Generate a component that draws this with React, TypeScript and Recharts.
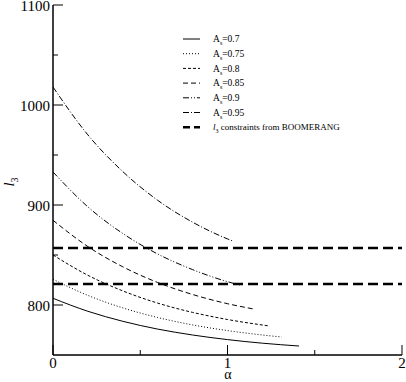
import React from "react";
import {
    LineChart,
    Line,
    XAxis,
    YAxis,
    ReferenceLine,
    Legend,
} from "recharts";

// values (alpha vs l3 for each A_s)
const alpha07 = [0, 0.2, 0.4, 0.6, 0.8, 1.0, 1.2, 1.41];
const l07 = [806.7, 793.7, 783.7, 775.9, 770.0, 765.4, 761.8, 759];
const alpha075 = [0, 0.2, 0.4, 0.6, 0.8, 1.0, 1.2, 1.31];
const l075 = [825.7, 809.6, 797.1, 787.5, 780.1, 774.4, 770.0, 768];
const alpha08 = [0, 0.2, 0.4, 0.6, 0.8, 1.0, 1.24];
const l08 = [850, 829.7, 814.1, 801.9, 792.6, 785.5, 779];
const alpha085 = [0, 0.2, 0.4, 0.6, 0.8, 1.0, 1.15];
const l085 = [884.7, 858.4, 838.2, 822.5, 810.5, 801.3, 796];
const alpha09 = [0, 0.2, 0.4, 0.6, 0.8, 1.0, 1.07];
const l09 = [933, 898.1, 871.5, 851, 835.4, 823.3, 820];
const alpha095 = [0, 0.2, 0.4, 0.6, 0.8, 1.0, 1.03];
const l095 = [1018, 970.1, 933.4, 904.7, 882.8, 866.1, 864];

const boomerangBounds = [857, 821];

const xTicks = [0, 0.5, 1, 1.5, 2];
const yTicks = [800, 850, 900, 950, 1000, 1050, 1100];

const PLOT = { left: 53, right: 402, top: 5, bottom: 355 };
const FONT = "'Liberation Serif', 'DejaVu Serif', serif";

const series = [
    { label: "0.7", alpha: alpha07, l: l07, dash: undefined },
    { label: "0.75", alpha: alpha075, l: l075, dash: "1 2" },
    { label: "0.8", alpha: alpha08, l: l08, dash: "3 2" },
    { label: "0.85", alpha: alpha085, l: l085, dash: "5 3" },
    { label: "0.9", alpha: alpha09, l: l09, dash: "6 2 1 2 1 2" },
    { label: "0.95", alpha: alpha095, l: l095, dash: "6 2 1 2" },
].map((s) => ({ ...s, points: s.alpha.map((a, i) => ({ a, l: s.l[i] })) }));

const LeftTick = (props: any) => {
    const { x, y, payload } = props;
    const major = payload.value % 100 === 0;
    return (
        <g>
            <line x1={PLOT.left} x2={PLOT.left + (major ? 10 : 5)} y1={y} y2={y} stroke="#000" />
            {major && (
                <text x={x} y={y + 1} dy="0.35em" textAnchor="end" fontFamily={FONT} fontSize={15} fill="#000">
                    {payload.value}
                </text>
            )}
        </g>
    );
};

const RightTick = (props: any) => {
    const { y, payload } = props;
    const major = payload.value % 100 === 0;
    return <line x1={PLOT.right} x2={PLOT.right - (major ? 10 : 5)} y1={y} y2={y} stroke="#000" />;
};

const BottomTick = (props: any) => {
    const { x, y, payload } = props;
    const major = Number.isInteger(payload.value);
    return (
        <g>
            <line x1={x} x2={x} y1={PLOT.bottom} y2={PLOT.bottom - (major ? 10 : 5)} stroke="#000" />
            {major && (
                <text x={x} y={y} dy="0.71em" textAnchor="middle" fontFamily={FONT} fontSize={15} fill="#000">
                    {payload.value}
                </text>
            )}
        </g>
    );
};

const TopTick = (props: any) => {
    const { x, payload } = props;
    const major = Number.isInteger(payload.value);
    return <line x1={x} x2={x} y1={PLOT.top} y2={PLOT.top + (major ? 10 : 5)} stroke="#000" />;
};

const LegendBox = () => {
    const rowH = 14.7;
    return (
        <svg width={200} height={110} style={{ display: "block" }}>
            {series.map((s, i) => {
                const y = 7 + i * rowH;
                return (
                    <g key={s.label}>
                        <line x1={3} x2={20} y1={y} y2={y} stroke="#000" strokeDasharray={s.dash} />
                        <text x={33} y={y} dy="0.35em" fontFamily={FONT} fontSize={9.5} fill="#000">
                            A<tspan dy={3} fontSize={6}>s</tspan>
                            <tspan dy={-3}>=</tspan>
                            {s.label}
                        </text>
                    </g>
                );
            })}
            <g>
                <line x1={3} x2={20} y1={7 + 6 * rowH} y2={7 + 6 * rowH} stroke="#000" strokeWidth={2.5} strokeDasharray="7 4" />
                <text x={33} y={7 + 6 * rowH} dy="0.35em" fontFamily={FONT} fontSize={9} fill="#000">
                    <tspan fontStyle="italic">l</tspan>
                    <tspan dy={3} fontSize={6}>3</tspan>
                    <tspan dy={-3}> constraints from BOOMERANG</tspan>
                </text>
            </g>
        </svg>
    );
};

export default function App() {
    return (
        <div style={{ position: "absolute", left: 0, top: 0, background: "#fff" }}>
            <LineChart width={406} height={382} margin={{ top: 5, right: 4, left: 0, bottom: 0 }}>
                <XAxis
                    type="number"
                    dataKey="a"
                    domain={[0, 2]}
                    ticks={xTicks}
                    interval={0}
                    allowDataOverflow
                    height={27}
                    tickSize={0}
                    tickMargin={2}
                    axisLine={{ stroke: "#000", strokeWidth: 1.5 }}
                    tick={BottomTick}
                    label={(p: any) => (
                        <text x={228} y={379} textAnchor="middle" fontFamily={FONT} fontSize={14} fill="#000">
                            α
                        </text>
                    )}
                />
                <XAxis
                    xAxisId="top"
                    orientation="top"
                    type="number"
                    dataKey="a"
                    domain={[0, 2]}
                    ticks={xTicks}
                    interval={0}
                    height={0}
                    tickSize={0}
                    tickMargin={0}
                    axisLine={{ stroke: "#000" }}
                    tick={TopTick}
                />
                <YAxis
                    type="number"
                    dataKey="l"
                    domain={[750, 1100]}
                    ticks={yTicks}
                    interval={0}
                    allowDataOverflow
                    width={53}
                    tickSize={0}
                    tickMargin={3}
                    axisLine={{ stroke: "#000", strokeWidth: 1.5 }}
                    tick={LeftTick}
                    label={(p: any) => (
                        <text
                            x={14}
                            y={182}
                            transform="rotate(-90 14 182)"
                            textAnchor="middle"
                            fontFamily={FONT}
                            fontSize={15}
                            fill="#000"
                        >
                            <tspan fontStyle="italic">l</tspan>
                            <tspan dy={4} fontSize={10}>3</tspan>
                        </text>
                    )}
                />
                <YAxis
                    yAxisId="right"
                    orientation="right"
                    type="number"
                    domain={[750, 1100]}
                    ticks={yTicks}
                    interval={0}
                    width={0}
                    tickSize={0}
                    tickMargin={0}
                    axisLine={{ stroke: "#000" }}
                    tick={RightTick}
                />
                {boomerangBounds.map((v) => (
                    <ReferenceLine key={v} y={v} stroke="#000" strokeWidth={2.5} strokeDasharray="10 5" />
                ))}
                {series.map((s) => (
                    <Line
                        key={s.label}
                        data={s.points}
                        dataKey="l"
                        type="monotone"
                        stroke="#000"
                        strokeWidth={1}
                        strokeDasharray={s.dash}
                        dot={false}
                        isAnimationActive={false}
                    />
                ))}
                <Legend
                    layout="horizontal"
                    verticalAlign="middle"
                    align="center"
                    wrapperStyle={{ top: 32, left: 180, width: 200 }}
                    content={() => <LegendBox />}
                />
            </LineChart>
        </div>
    );
}
